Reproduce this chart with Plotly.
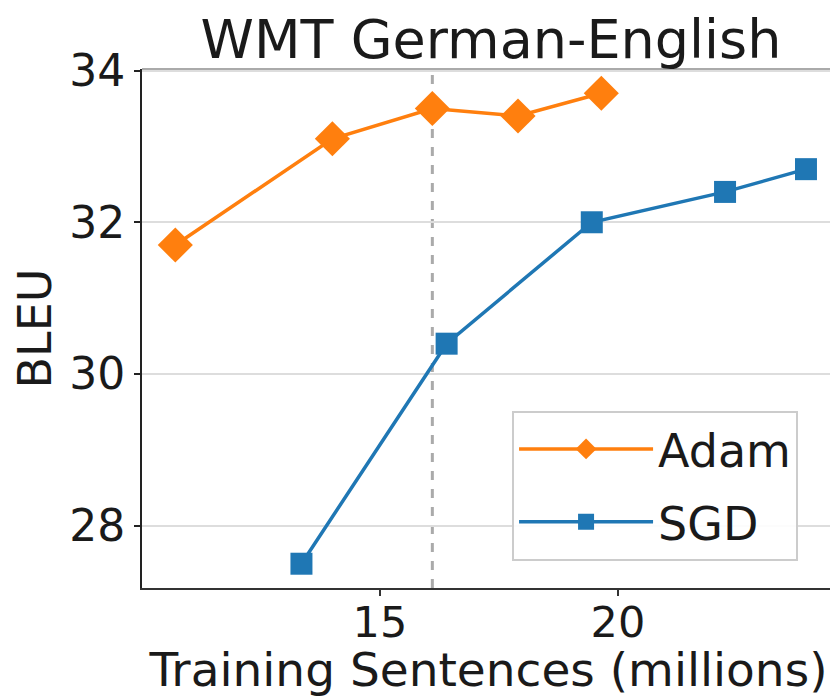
import plotly.graph_objects as go

adam_x = [10.7, 14.0, 16.1, 17.9, 19.65]
adam_y = [31.7, 33.1, 33.5, 33.4, 33.7]
sgd_x = [13.35, 16.4, 19.45, 22.25, 23.95]
sgd_y = [27.5, 30.4, 32.0, 32.4, 32.7]
vline_x = 16.1
x_ticks = [15, 20]
y_ticks = [28, 30, 32, 34]

fig = go.Figure()
fig.add_trace(go.Scatter(x=adam_x, y=adam_y, mode="lines+markers", name="Adam",
                         legendgroup="a",
                         line=dict(color="#ff7f0e", width=3.5),
                         marker=dict(symbol="diamond", size=27, color="#ff7f0e")))
fig.add_trace(go.Scatter(x=sgd_x, y=sgd_y, mode="lines+markers", name="SGD",
                         legendgroup="b",
                         line=dict(color="#1f77b4", width=3.5),
                         marker=dict(symbol="square", size=22, color="#1f77b4")))

fig.add_shape(type="line", xref="x", yref="paper", x0=vline_x, x1=vline_x, y0=0, y1=1,
              line=dict(color="#aaaaaa", width=3, dash="dash"), layer="below")
fig.add_shape(type="line", xref="paper", yref="paper", x0=0, x1=1, y0=1, y1=1,
              line=dict(color="#aaaaaa", width=2))
fig.add_shape(type="line", xref="paper", yref="paper", x0=1, x1=1, y0=0, y1=1,
              line=dict(color="#dddddd", width=2))

W, H = 830, 689
fig.update_layout(
    width=W, height=H,
    margin=dict(l=134, r=3, t=61, b=109, autoexpand=False),
    paper_bgcolor="white", plot_bgcolor="white",
    font=dict(family="DejaVu Sans", color="#1a1a1a", size=44),
    title=dict(text="WMT German-English", x=483 / W, xanchor="center", xref="container",
               y=1 - 31 / H, yanchor="middle", yref="container", font=dict(size=54),
               automargin=False),
    xaxis=dict(range=[10.0, 24.56], tickvals=x_ticks, showgrid=False,
               showline=True, linecolor="#333333", linewidth=2,
               ticks="outside", ticklen=6, tickwidth=2, tickcolor="#333333",
               tickfont=dict(size=43), automargin=False, ticklabelstandoff=-11,
               title=dict(text="Training Sentences (millions)", standoff=0, font=dict(size=47)),
               zeroline=False),
    yaxis=dict(range=[27.18, 34.02], tickvals=y_ticks, showgrid=True,
               gridcolor="#dddddd", gridwidth=2,
               showline=True, linecolor="#222222", linewidth=2,
               ticks="outside", ticklen=6, tickwidth=2, tickcolor="#222222",
               tickfont=dict(size=44), automargin=False,
               title=dict(text="BLEU", standoff=8, font=dict(size=46)),
               zeroline=False),
    legend=dict(x=0.534, y=0.342, xanchor="left", yanchor="top",
                bgcolor="rgba(255,255,255,0.9)", bordercolor="#cccccc", borderwidth=2,
                font=dict(size=46), itemwidth=134, tracegroupgap=10,
                traceorder="grouped"),
    showlegend=True,
)

fig.write_html("out.html")
